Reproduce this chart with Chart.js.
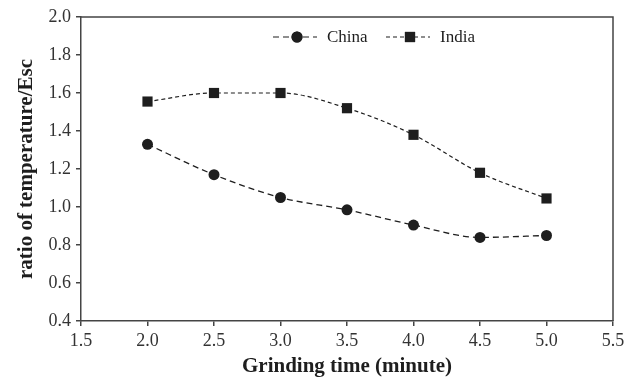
<!DOCTYPE html>
<html>
<head>
<meta charset="utf-8">
<script src="https://cdn.jsdelivr.net/npm/chart.js@4"></script>
<style>
  html, body { margin: 0; padding: 0; background: #fff; }
  #wrap { width: 639px; height: 380px; }
</style>
</head>
<body>
<div id="wrap"><canvas id="myChart"></canvas></div>
<script>
const grindTime = [2.0, 2.5, 3.0, 3.5, 4.0, 4.5, 5.0];
const china = [1.33, 1.17, 1.05, 0.985, 0.905, 0.84, 0.85];
const india = [1.555, 1.60, 1.60, 1.52, 1.38, 1.18, 1.045];

const ink = "#1e1e1e";
const serif = "'Liberation Serif', 'Times New Roman', serif";

// frame round the plot + legend inside the plot area
const framePlugin = {
  id: "frame",
  afterDraw(chart) {
    const { ctx, chartArea: a } = chart;
    ctx.save();
    ctx.strokeStyle = "#444";
    ctx.lineWidth = 1.5;
    ctx.beginPath();
    ctx.moveTo(a.left, a.top);
    ctx.lineTo(a.right, a.top);
    ctx.lineTo(a.right, a.bottom);
    ctx.stroke();

    // legend
    const items = [
      { ds: chart.data.datasets[0], x: 273 },
      { ds: chart.data.datasets[1], x: 386 },
    ];
    const y = a.top + 20;
    items.forEach(({ ds, x }) => {
      ctx.strokeStyle = ink;
      ctx.lineWidth = 1.2;
      ctx.setLineDash(ds.borderDash);
      ctx.beginPath();
      ctx.moveTo(x, y);
      ctx.lineTo(x + 44, y);
      ctx.stroke();
      ctx.setLineDash([]);
      Chart.helpers.drawPoint(ctx, { pointStyle: ds.pointStyle, radius: ds.pointRadius, borderWidth: 0 }, x + 24, y);
      ctx.fillStyle = ink;
      ctx.fill();
      ctx.font = "17px " + serif;
      ctx.textBaseline = "middle";
      ctx.textAlign = "left";
      ctx.fillText(ds.label, x + 54, y + 1);
    });
    ctx.restore();
  },
};

const chart = new Chart(document.getElementById("myChart"), {
  type: "line",
  plugins: [framePlugin],
  data: {
    datasets: [
      {
        label: "China",
        data: grindTime.map((t, i) => ({ x: t, y: china[i] })),
        borderColor: ink,
        backgroundColor: ink,
        borderWidth: 1.3,
        borderDash: [6, 4],
        pointStyle: "circle",
        pointRadius: 5.5,
        pointBorderWidth: 0,
        cubicInterpolationMode: "monotone",
        fill: false,
      },
      {
        label: "India",
        data: grindTime.map((t, i) => ({ x: t, y: india[i] })),
        borderColor: ink,
        backgroundColor: ink,
        borderWidth: 1.2,
        borderDash: [4, 3],
        pointStyle: "rect",
        pointRadius: 7.2,
        pointBorderWidth: 0,
        cubicInterpolationMode: "monotone",
        fill: false,
      },
    ],
  },
  options: {
    responsive: true,
    maintainAspectRatio: false,
    animation: false,
    layout: { padding: { left: 0, right: 26, top: 17, bottom: 0 } },
    scales: {
      x: {
        type: "linear",
        min: 1.5,
        max: 5.5,
        afterFit: (s) => { s.height = 59; },
        title: {
          display: true,
          text: "Grinding time (minute)",
          color: ink,
          font: { family: serif, size: 21, weight: "bold" },
          padding: { top: 0, bottom: 1 },
        },
        ticks: {
          stepSize: 0.5,
          color: "#333",
          font: { family: serif, size: 18 },
          padding: 4,
          callback: (value) => value.toFixed(1),
        },
        grid: { display: true, drawOnChartArea: false, drawTicks: true, tickLength: 5, color: "#444", lineWidth: 1.5 },
        border: { display: true, color: "#444", width: 1.5 },
      },
      y: {
        type: "linear",
        min: 0.4,
        max: 2.0,
        afterFit: (s) => { s.width = 81; },
        title: {
          display: true,
          text: "ratio of temperature/Esc",
          color: ink,
          font: { family: serif, size: 21, weight: "bold" },
          padding: { top: 14, bottom: 0 },
        },
        ticks: {
          stepSize: 0.2,
          color: "#333",
          font: { family: serif, size: 18 },
          padding: 5,
          callback: (value) => value.toFixed(1),
        },
        grid: { display: true, drawOnChartArea: false, drawTicks: true, tickLength: 5, color: "#444", lineWidth: 1.5 },
        border: { display: true, color: "#444", width: 1.5 },
      },
    },
    plugins: {
      legend: { display: false },
      title: { display: false },
      tooltip: { enabled: false },
    },
  },
});
</script>
</body>
</html>
